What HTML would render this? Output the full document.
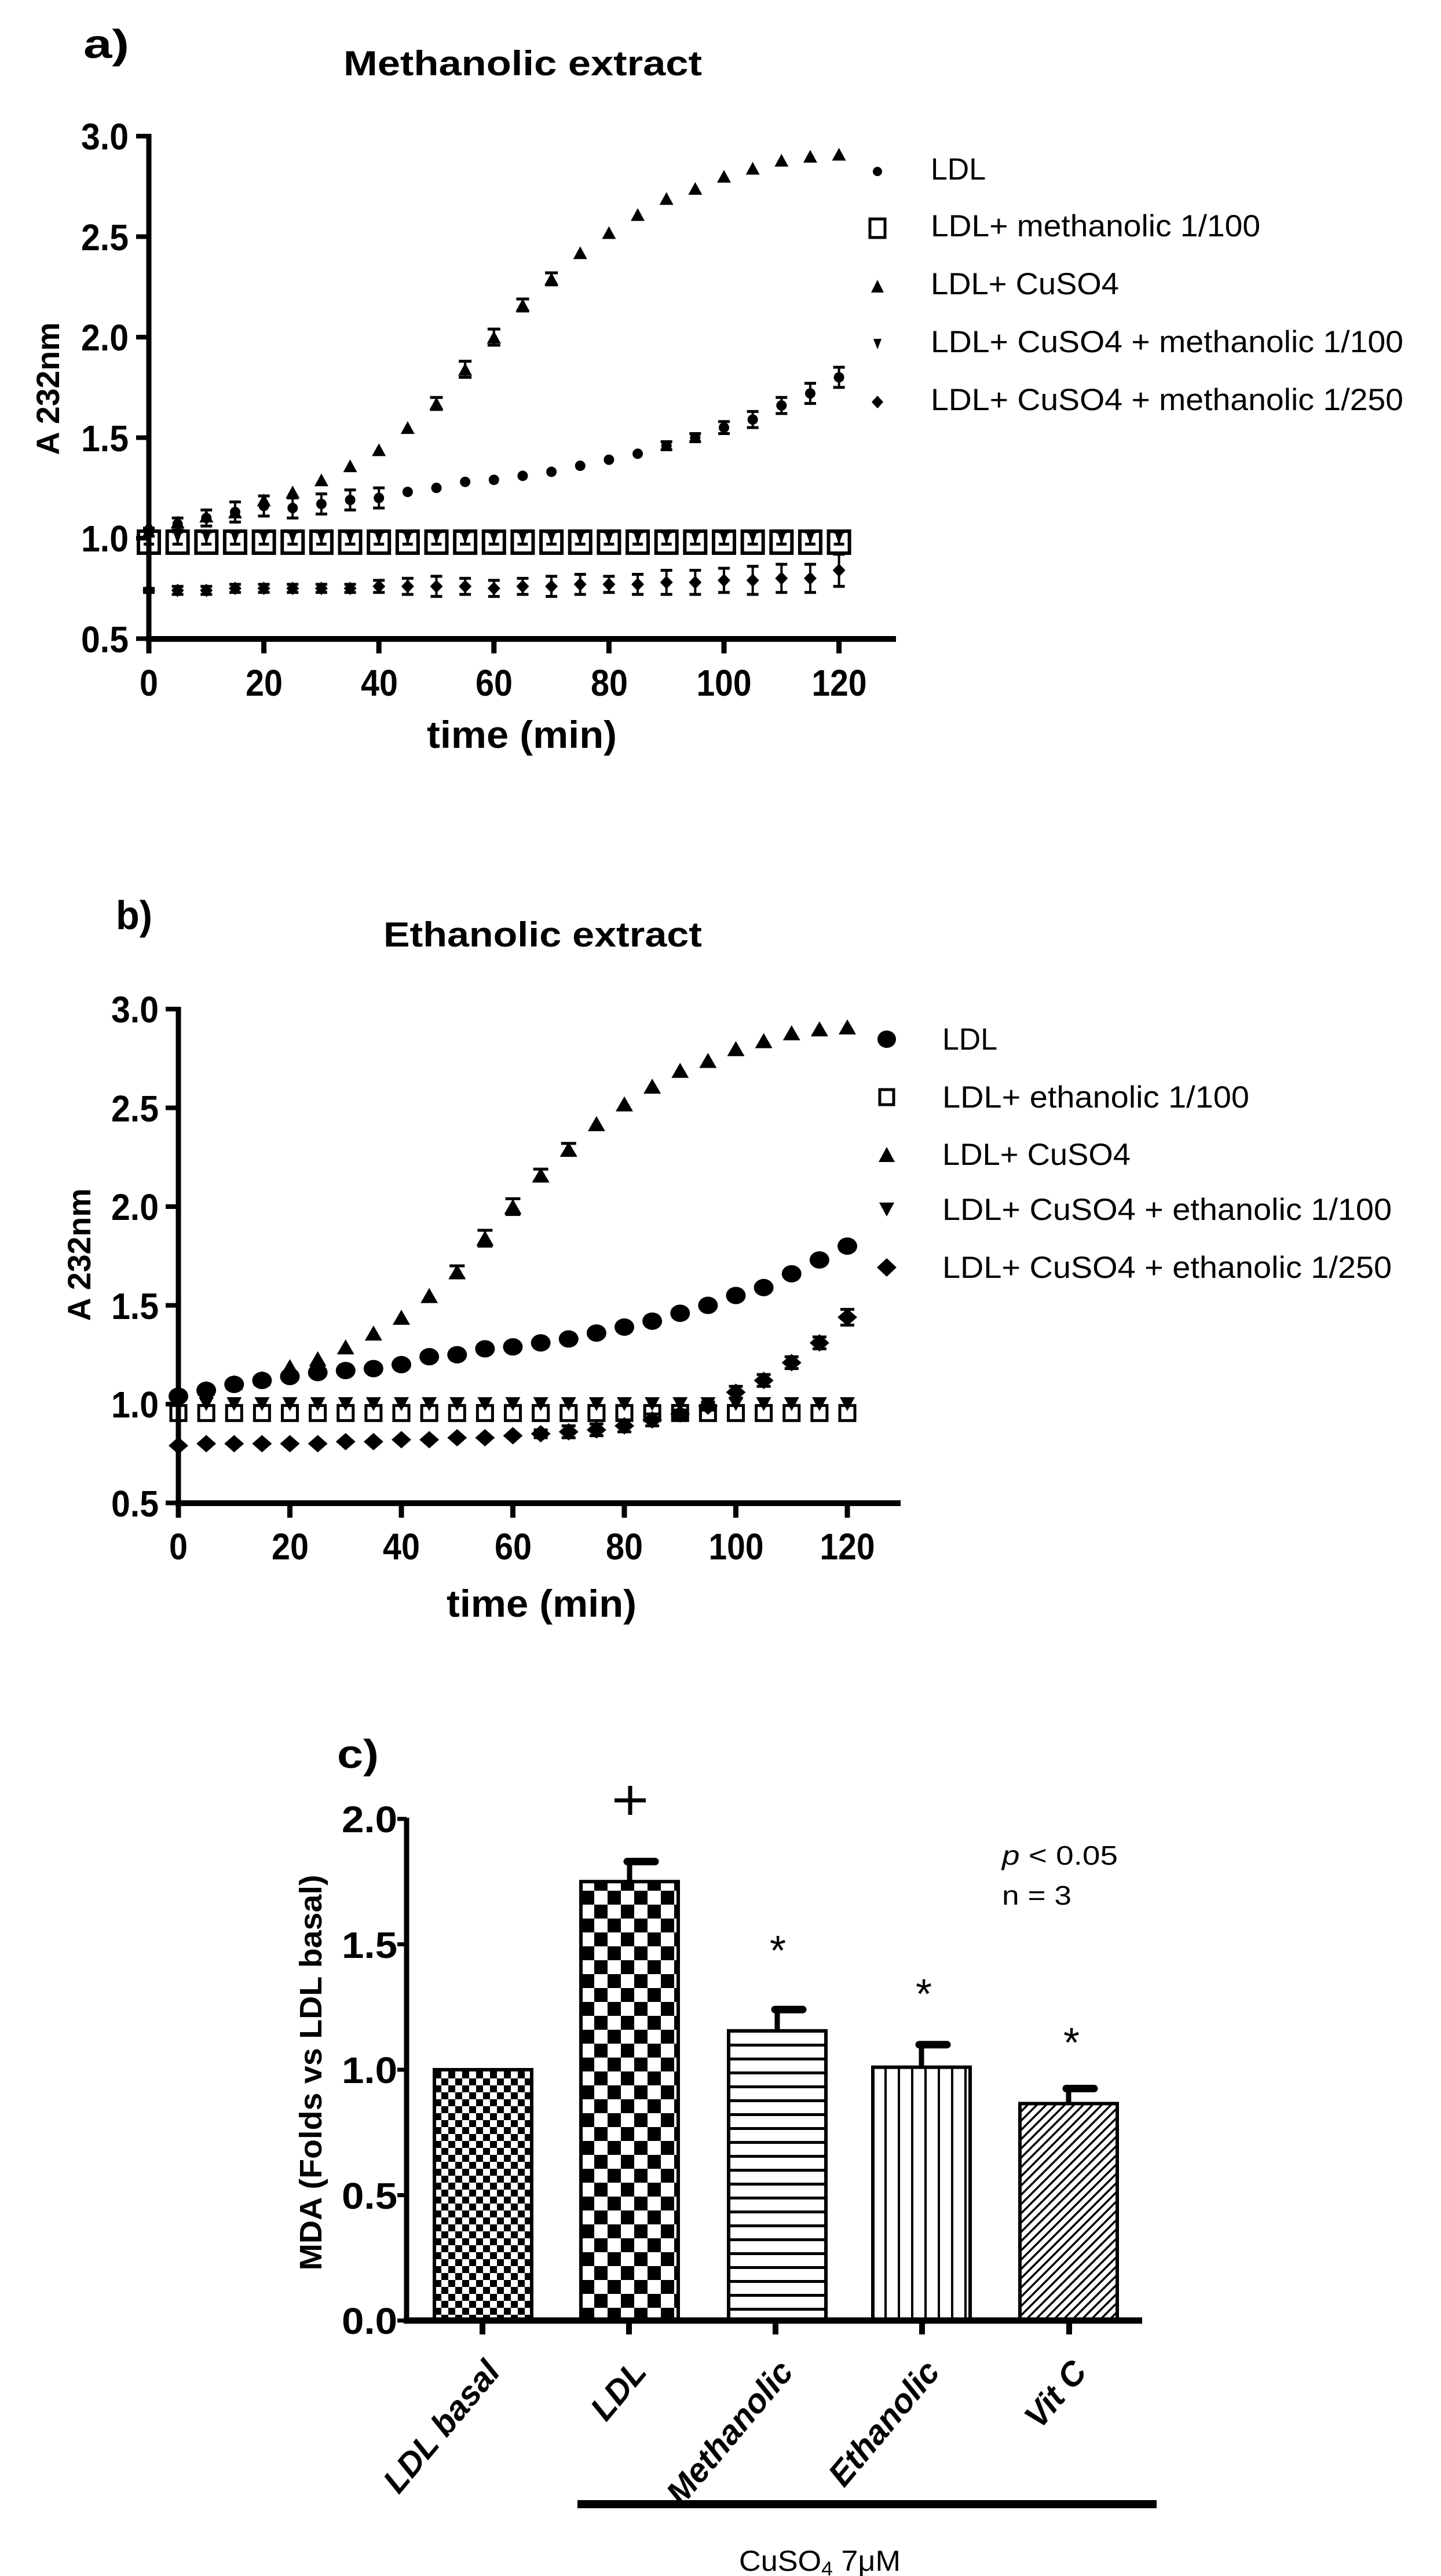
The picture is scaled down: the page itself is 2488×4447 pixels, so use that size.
<!DOCTYPE html>
<html><head><meta charset="utf-8"><style>html,body{margin:0;padding:0;background:#fff}svg{display:block}</style></head>
<body>
<svg id="s" width="2488" height="4447" viewBox="0 0 2488 4447" xmlns="http://www.w3.org/2000/svg" font-family="Liberation Sans, Arial, sans-serif">
<defs>
<pattern id="pBasal" width="24" height="24" patternUnits="userSpaceOnUse" x="750" y="0"><rect width="24" height="24" fill="#fff"/><rect width="12" height="12" fill="#000"/><rect x="12" y="12" width="12" height="12" fill="#000"/></pattern>
<pattern id="pLDL" width="46" height="48" patternUnits="userSpaceOnUse" x="1003" y="0"><rect width="46" height="48" fill="#fff"/><rect width="23" height="24" fill="#000"/><rect x="23" y="24" width="23" height="24" fill="#000"/></pattern>
<pattern id="pH" width="10" height="24" patternUnits="userSpaceOnUse"><rect width="10" height="24" fill="#fff"/><rect y="0" width="10" height="5" fill="#000"/></pattern>
<pattern id="pV" width="23" height="10" patternUnits="userSpaceOnUse" x="1504"><rect width="23" height="10" fill="#fff"/><rect x="0" width="4" height="10" fill="#000"/></pattern>
<pattern id="pD" width="16" height="16" patternUnits="userSpaceOnUse"><rect width="16" height="16" fill="#fff"/><path d="M-4 20 L20 -4 M-4 4 L4 -4 M12 20 L20 12" stroke="#000" stroke-width="3.5"/></pattern>
</defs>
<g id="g"></g>

<text x="144" y="100" font-size="70" font-weight="bold" textLength="79" lengthAdjust="spacingAndGlyphs">a)</text>
<text x="593" y="130" font-size="60" font-weight="bold" textLength="619" lengthAdjust="spacingAndGlyphs">Methanolic extract</text>
<g font-size="64" font-weight="bold" text-anchor="end">
<text x="222" y="258" textLength="82" lengthAdjust="spacingAndGlyphs">3.0</text>
<text x="222" y="432" textLength="82" lengthAdjust="spacingAndGlyphs">2.5</text>
<text x="222" y="605" textLength="82" lengthAdjust="spacingAndGlyphs">2.0</text>
<text x="222" y="779" textLength="82" lengthAdjust="spacingAndGlyphs">1.5</text>
<text x="222" y="952" textLength="82" lengthAdjust="spacingAndGlyphs">1.0</text>
<text x="222" y="1126" textLength="82" lengthAdjust="spacingAndGlyphs">0.5</text>
</g>
<g font-size="64" font-weight="bold" text-anchor="middle">
<text x="257" y="1201" textLength="32" lengthAdjust="spacingAndGlyphs">0</text>
<text x="456" y="1201" textLength="64" lengthAdjust="spacingAndGlyphs">20</text>
<text x="655" y="1201" textLength="64" lengthAdjust="spacingAndGlyphs">40</text>
<text x="853" y="1201" textLength="64" lengthAdjust="spacingAndGlyphs">60</text>
<text x="1052" y="1201" textLength="64" lengthAdjust="spacingAndGlyphs">80</text>
<text x="1250" y="1201" textLength="95" lengthAdjust="spacingAndGlyphs">100</text>
<text x="1449" y="1201" textLength="95" lengthAdjust="spacingAndGlyphs">120</text>
</g>
<text x="901" y="1291" font-size="66" font-weight="bold" text-anchor="middle" textLength="328" lengthAdjust="spacingAndGlyphs">time (min)</text>
<text transform="translate(102 671) rotate(-90)" font-size="56" font-weight="bold" text-anchor="middle" textLength="229" lengthAdjust="spacingAndGlyphs">A 232nm</text>
<g font-size="53">
<text x="1607" y="310" textLength="95" lengthAdjust="spacingAndGlyphs">LDL</text>
<text x="1607" y="408" textLength="569" lengthAdjust="spacingAndGlyphs">LDL+ methanolic 1/100</text>
<text x="1607" y="508" textLength="325" lengthAdjust="spacingAndGlyphs">LDL+ CuSO4</text>
<text x="1607" y="608" textLength="816" lengthAdjust="spacingAndGlyphs">LDL+ CuSO4 + methanolic 1/100</text>
<text x="1607" y="708" textLength="816" lengthAdjust="spacingAndGlyphs">LDL+ CuSO4 + methanolic 1/250</text>
</g>

<text x="200" y="1604" font-size="70" font-weight="bold" textLength="63" lengthAdjust="spacingAndGlyphs">b)</text>
<text x="662" y="1634" font-size="60" font-weight="bold" textLength="550" lengthAdjust="spacingAndGlyphs">Ethanolic extract</text>
<g font-size="64" font-weight="bold" text-anchor="end">
<text x="274" y="1765" textLength="82" lengthAdjust="spacingAndGlyphs">3.0</text>
<text x="274" y="1936" textLength="82" lengthAdjust="spacingAndGlyphs">2.5</text>
<text x="274" y="2106" textLength="82" lengthAdjust="spacingAndGlyphs">2.0</text>
<text x="274" y="2277" textLength="82" lengthAdjust="spacingAndGlyphs">1.5</text>
<text x="274" y="2447" textLength="82" lengthAdjust="spacingAndGlyphs">1.0</text>
<text x="274" y="2618" textLength="82" lengthAdjust="spacingAndGlyphs">0.5</text>
</g>
<g font-size="64" font-weight="bold" text-anchor="middle">
<text x="308" y="2692" textLength="32" lengthAdjust="spacingAndGlyphs">0</text>
<text x="501" y="2692" textLength="64" lengthAdjust="spacingAndGlyphs">20</text>
<text x="693" y="2692" textLength="64" lengthAdjust="spacingAndGlyphs">40</text>
<text x="886" y="2692" textLength="64" lengthAdjust="spacingAndGlyphs">60</text>
<text x="1078" y="2692" textLength="64" lengthAdjust="spacingAndGlyphs">80</text>
<text x="1271" y="2692" textLength="95" lengthAdjust="spacingAndGlyphs">100</text>
<text x="1463" y="2692" textLength="95" lengthAdjust="spacingAndGlyphs">120</text>
</g>
<text x="935" y="2791" font-size="66" font-weight="bold" text-anchor="middle" textLength="328" lengthAdjust="spacingAndGlyphs">time (min)</text>
<text transform="translate(156 2166) rotate(-90)" font-size="56" font-weight="bold" text-anchor="middle" textLength="229" lengthAdjust="spacingAndGlyphs">A 232nm</text>
<g font-size="53">
<text x="1627" y="1812" textLength="95" lengthAdjust="spacingAndGlyphs">LDL</text>
<text x="1627" y="1912" textLength="530" lengthAdjust="spacingAndGlyphs">LDL+ ethanolic 1/100</text>
<text x="1627" y="2011" textLength="325" lengthAdjust="spacingAndGlyphs">LDL+ CuSO4</text>
<text x="1627" y="2106" textLength="776" lengthAdjust="spacingAndGlyphs">LDL+ CuSO4 + ethanolic 1/100</text>
<text x="1627" y="2206" textLength="776" lengthAdjust="spacingAndGlyphs">LDL+ CuSO4 + ethanolic 1/250</text>
</g>

<text x="582" y="3052" font-size="70" font-weight="bold" textLength="72" lengthAdjust="spacingAndGlyphs">c)</text>
<g font-size="64" font-weight="bold" text-anchor="end">
<text x="686" y="3163" textLength="96" lengthAdjust="spacingAndGlyphs">2.0</text>
<text x="686" y="3380" textLength="96" lengthAdjust="spacingAndGlyphs">1.5</text>
<text x="686" y="3596" textLength="96" lengthAdjust="spacingAndGlyphs">1.0</text>
<text x="686" y="3813" textLength="96" lengthAdjust="spacingAndGlyphs">0.5</text>
<text x="686" y="4029" textLength="96" lengthAdjust="spacingAndGlyphs">0.0</text>
</g>
<text transform="translate(555 3578) rotate(-90)" font-size="54" font-weight="bold" text-anchor="middle" textLength="683" lengthAdjust="spacingAndGlyphs">MDA (Folds vs LDL basal)</text>
<g font-size="58" font-weight="bold" font-style="italic" text-anchor="end">
<text transform="translate(866 4096) rotate(-50)">LDL basal</text>
<text transform="translate(1119 4096) rotate(-50)">LDL</text>
<text transform="translate(1372 4096) rotate(-50)">Methanolic</text>
<text transform="translate(1625 4096) rotate(-50)">Ethanolic</text>
<text transform="translate(1879 4096) rotate(-50)">Vit C</text>
</g>
<text x="1730" y="3219" font-size="46" textLength="200" lengthAdjust="spacingAndGlyphs"><tspan font-style="italic">p</tspan> &lt; 0.05</text>
<text x="1730" y="3288" font-size="46" textLength="120" lengthAdjust="spacingAndGlyphs">n = 3</text>
<g font-size="72" text-anchor="middle">
<text x="1343" y="3392">*</text>
<text x="1595" y="3467">*</text>
<text x="1850" y="3551">*</text>
</g>
<path d="M1061 3108 H1115 M1088 3083 V3133" stroke="#000" stroke-width="7"/>
<rect x="997" y="4316" width="1000" height="14" fill="#000"/>
<text x="1276" y="4438" font-size="50" textLength="279" lengthAdjust="spacingAndGlyphs">CuSO<tspan font-size="34" dy="8">4</tspan><tspan dy="-8"> 7μM</tspan></text>
</svg>
<script>
(function(){
var g=document.getElementById('g'),h='';
function ln(x1,y1,x2,y2,w){h+='<line x1="'+x1+'" y1="'+y1+'" x2="'+x2+'" y2="'+y2+'" stroke="#000" stroke-width="'+w+'"/>';}
function rc(x,y,w,hh,f,st){h+='<rect x="'+x+'" y="'+y+'" width="'+w+'" height="'+hh+'" fill="'+f+'"'+(st?' stroke="#000" stroke-width="'+st+'"':'')+'/>';}
function mk(t,x,y,w,hh,sw){
 if(t=='c')h+='<ellipse cx="'+x+'" cy="'+y+'" rx="'+w/2+'" ry="'+hh/2+'"/>';
 else if(t=='t')h+='<polygon points="'+x+','+(y-hh/2)+' '+(x+w/2)+','+(y+hh/2)+' '+(x-w/2)+','+(y+hh/2)+'"/>';
 else if(t=='v')h+='<polygon points="'+x+','+(y+hh/2)+' '+(x+w/2)+','+(y-hh/2)+' '+(x-w/2)+','+(y-hh/2)+'"/>';
 else if(t=='d')h+='<polygon points="'+x+','+(y-hh/2)+' '+(x+w/2)+','+y+' '+x+','+(y+hh/2)+' '+(x-w/2)+','+y+'"/>';
 else if(t=='s')h+='<rect x="'+(x-w/2)+'" y="'+(y-hh/2)+'" width="'+w+'" height="'+hh+'" fill="none" stroke="#000" stroke-width="'+sw+'"/>';
}
function eb(x,y1,y2,cw){ln(x,y1,x,y2,4);ln(x-cw/2,y1,x+cw/2,y1,5);ln(x-cw/2,y2,x+cw/2,y2,5);}
function series(X,Y,vals,errs,t,w,hh,sw,cw){
 for(var i=0;i<vals.length;i++){var x=X(i*5),v=vals[i],e=errs?errs[i]:0;
  if(e>0)eb(x,Y(v+e),Y(v-e),cw);mk(t,x,Y(v),w,hh,sw);}
}
function axes(x0,yTop,yBot,xEnd,X,py,y3){
 ln(x0,yTop-4,x0,yBot+5,9);ln(x0-5,yBot,xEnd,yBot,10);
 for(var v=0;v<6;v++){var y=y3+v*0.5*py;ln(x0-22,y,x0,y,8);}
 for(var t=0;t<=120;t+=20){ln(X(t),yBot,X(t),yBot+25,9);}
}
var tri=[1.06,1.08,1.11,1.13,1.19,1.23,1.29,1.36,1.44,1.55,1.67,1.84,2.00,2.16,2.29,2.42,2.52,2.61,2.69,2.74,2.80,2.84,2.88,2.90,2.91];
var triE=[0,0,0,0,0,0,0,0,0,0,.03,.04,.04,.03,.03,0,0,0,0,0,0,0,0,0,0];
var Xa=function(t){return 257+t*9.93},Ya=function(v){return 235+(3-v)*347};
axes(257,235,1103,1547,Xa,347,235);
var ldla=[1.03,1.07,1.10,1.13,1.16,1.15,1.17,1.19,1.20,1.23,1.25,1.28,1.29,1.31,1.33,1.36,1.39,1.42,1.46,1.50,1.55,1.59,1.66,1.72,1.80];
var ldlaE=[.02,.03,.04,.05,.05,.05,.05,.05,.05,0,0,0,0,0,0,0,0,0,.02,.02,.03,.04,.04,.05,.05];
var sq=[],dv=[],dvE=[];for(var i=0;i<25;i++){sq.push(0.98);dv.push(1.0);dvE.push(0.03);}
var dia=[0.74,0.74,0.74,0.75,0.75,0.75,0.75,0.75,0.76,0.76,0.76,0.76,0.75,0.76,0.76,0.77,0.77,0.77,0.78,0.78,0.79,0.79,0.80,0.80,0.84];
var diaE=[.01,.02,.02,.02,.02,.02,.02,.02,.03,.04,.05,.04,.04,.04,.05,.05,.04,.05,.06,.06,.06,.07,.07,.07,.08];
series(Xa,Ya,sq,null,'s',36,38,6,0);
series(Xa,Ya,dv,dvE,'v',15,22,0,18);
series(Xa,Ya,dia,diaE,'d',22,23,0,20);
series(Xa,Ya,ldla,ldlaE,'c',18,18,0,20);
series(Xa,Ya,tri,triE,'t',24,22,0,22);
mk('c',1515,296,16,16);mk('s',1515,394,26,32,5);mk('t',1515,494,22,22);mk('v',1515,594,14,18);mk('d',1515,694,20,22);
var Xb=function(t){return 308+t*9.625},Yb=function(v){return 1742+(3-v)*341};
axes(308,1742,2595,1555,Xb,341,1742);
var ldlb=[1.04,1.07,1.10,1.12,1.14,1.16,1.17,1.18,1.20,1.24,1.25,1.28,1.29,1.31,1.33,1.36,1.39,1.42,1.46,1.50,1.55,1.59,1.66,1.73,1.80];
var sqb=[],dvb=[];for(i=0;i<25;i++){sqb.push(0.955);dvb.push(1.0);}
var diab=[0.79,0.80,0.80,0.80,0.80,0.80,0.81,0.81,0.82,0.82,0.83,0.83,0.84,0.85,0.86,0.87,0.89,0.92,0.95,0.99,1.06,1.12,1.21,1.31,1.44];
var diabE=[0,0,0,0,0,0,0,0,0,0,0,0,0,0.02,0.03,0.03,0.03,0.03,0.02,0.02,0.03,0.03,0.03,0.03,0.04];
series(Xb,Yb,sqb,null,'s',26,26,5,0);
series(Xb,Yb,dvb,null,'v',26,24,0,0);
series(Xb,Yb,diab,diabE,'d',34,30,0,24);
series(Xb,Yb,ldlb,null,'c',34,30,0,0);
series(Xb,Yb,tri,triE,'t',30,26,0,26);
mk('c',1531,1794,32,30);mk('s',1531,1894,24,26,5);mk('t',1531,1993,28,26);mk('v',1531,2088,26,24);mk('d',1531,2188,34,32);
var Yc=function(v){return 4006-v*433};
var bars=[[750,1.0,'pBasal',0],[1003,1.75,'pLDL',.08],[1258,1.155,'pH',.085],[1507,1.01,'pV',.09],[1761,0.865,'pD',.06]];
bars.forEach(function(b){var x=b[0],w=168,top=Yc(b[1]);
 if(b[3]>0){var cx=x+w/2,ct=Yc(b[1]+b[3]);ln(cx,top,cx,ct,9);h+='<line x1="'+(cx-4)+'" y1="'+ct+'" x2="'+(cx+44)+'" y2="'+ct+'" stroke="#000" stroke-width="13" stroke-linecap="round"/>';}
 rc(x,top,w,4006-top,'url(#'+b[2]+')',6);});
ln(702,3138,702,4011,9);ln(697,4006,1972,4006,11);
for(var v=0;v<5;v++){ln(686,Yc(v*0.5),702,Yc(v*0.5),7);}
[833,1086,1339,1592,1846].forEach(function(x){ln(x,4006,x,4030,10);});
g.innerHTML=h;
})();
</script>
</body></html>
